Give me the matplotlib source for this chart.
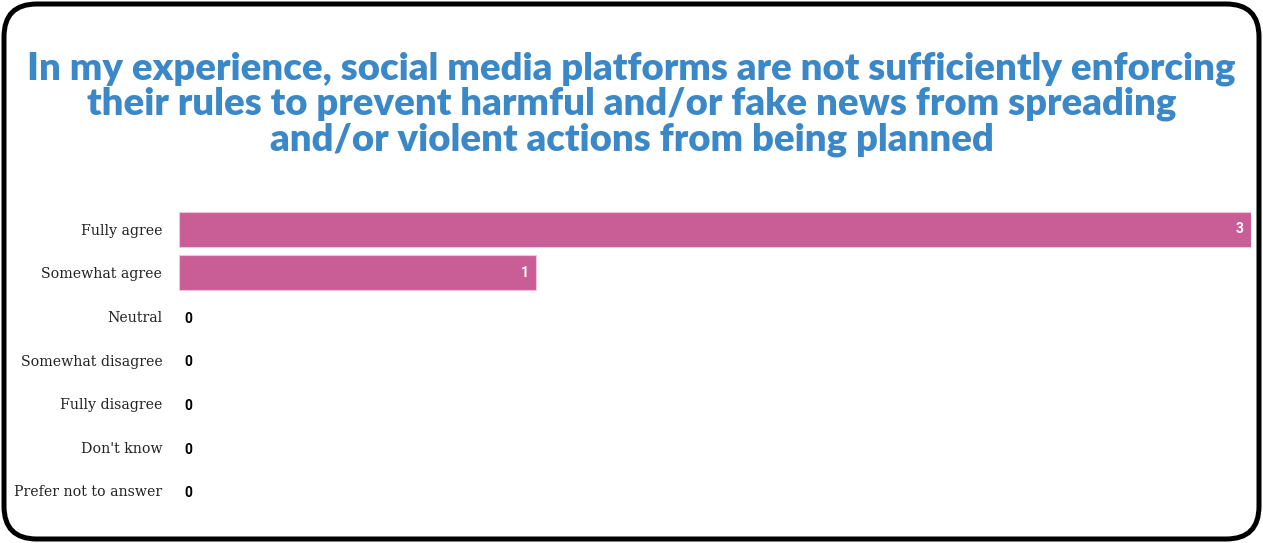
import matplotlib.pyplot as plt
from matplotlib.patches import FancyBboxPatch

# Data
answers = ['Fully agree', 'Somewhat agree', 'Neutral', 'Somewhat disagree',
           'Fully disagree', "Don't know", 'Prefer not to answer']
counts = [3, 1, 0, 0, 0, 0, 0]

title = ('In my experience, social media platforms are not sufficiently enforcing\n'
         'their rules to prevent harmful and/or fake news from spreading\n'
         'and/or violent actions from being planned')

fig = plt.figure(figsize=(12.63, 5.43), dpi=100)

# rounded frame around the whole chart
frame = FancyBboxPatch((4 / 1263, 4 / 543), 1255 / 1263, 535 / 543,
                       boxstyle='round,pad=0,rounding_size=0.026',
                       transform=fig.transFigure, fill=False,
                       edgecolor='black', linewidth=3.6,
                       mutation_aspect=1263 / 543)
fig.patches.append(frame)

fig.text(0.5, 1 - 104 / 543, title, ha='center', va='center', color='#3b88c9',
         fontsize=27.5, fontweight='heavy', family='Lato', linespacing=1.04)

ax = fig.add_axes([179 / 1263, 0.0556, 1072 / 1263, 0.5628])
pos = range(len(answers))
ax.barh(pos, counts, height=0.8, color='#c95e96',
        edgecolor=['#f2c4dc' if c > 0 else 'none' for c in counts], linewidth=0.8)
ax.set_xlim(0, 3)
ax.set_ylim(len(answers) - 0.5, -0.5)
ax.set_yticks(list(pos))
ax.set_yticklabels(answers, family='DejaVu Serif', fontsize=10.2, color='#222222')
ax.tick_params(axis='y', length=0, pad=12)
ax.set_xticks([])
for s in ax.spines.values():
    s.set_visible(False)

for i, v in enumerate(counts):
    if v > 0:
        ax.text(v - 0.02, i, str(v), ha='right', va='center', color='white',
                fontsize=10, fontweight='bold', family='Roboto')
    else:
        ax.text(0.015, i + 0.05, str(v), ha='left', va='center', color='black',
                fontsize=10, fontweight='bold', family='Roboto')

fig.savefig('out.png', dpi=100)
